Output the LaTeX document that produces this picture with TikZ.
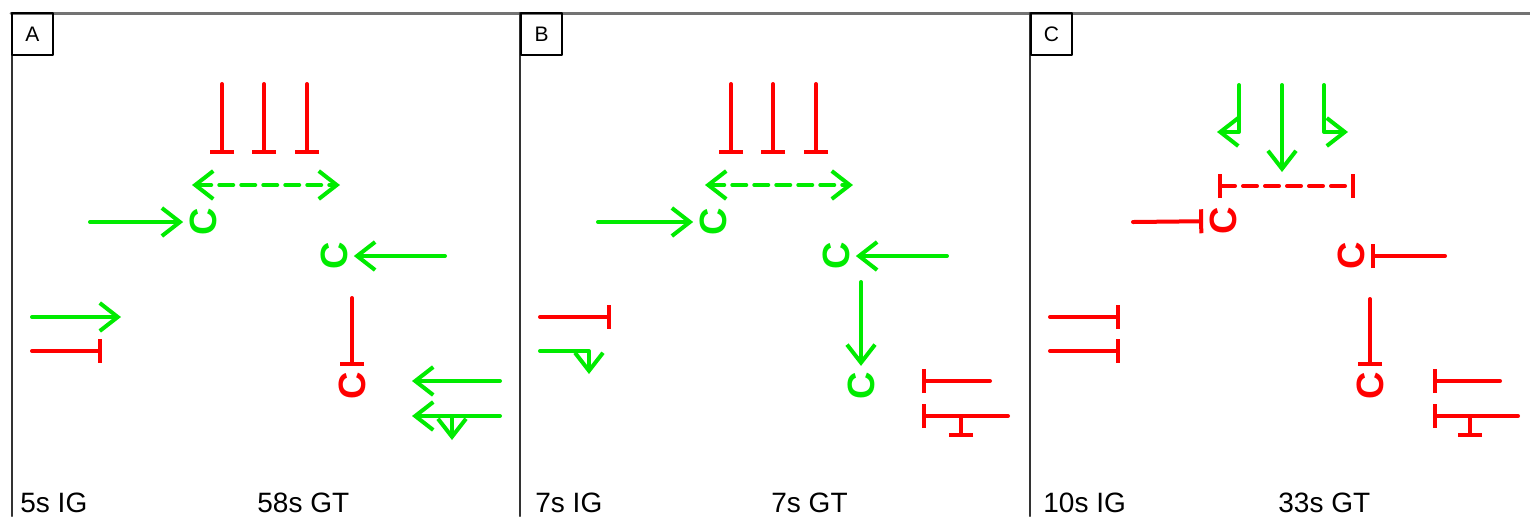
\documentclass[tikz,border=0pt]{standalone}
\usepackage{fontspec}
\setmainfont{Liberation Sans}
\usetikzlibrary{arrows.meta}
\definecolor{actgreen}{RGB}{0,235,0}
\definecolor{inhred}{RGB}{255,0,0}
\tikzset{barb/.tip={Straight Barb[length=9pt,width=14pt]},
  tbar/.tip={Bar[width=12pt]}}

\begin{document}
\begin{tikzpicture}[x=0.5pt,y=-0.5pt,line cap=round,line join=round,
    act/.style={draw=actgreen,line width=2pt,-{barb}},
    inh/.style={draw=inhred,line width=2pt,-{tbar}},
    cnode/.style={inner sep=3pt,rotate=90,font=\fontsize{19pt}{19pt}\selectfont\bfseries},
    tag/.style={draw,line width=0.8pt,minimum width=20.5pt,minimum height=21pt,inner sep=0pt,font=\fontsize{10.5pt}{12pt}\selectfont},
    caption/.style={anchor=base west,inner sep=0pt,font=\fontsize{14pt}{16pt}\selectfont}]
  \useasboundingbox (0,0) rectangle (1530,516);
  % frames
  \draw[black!55,line width=1.5pt] (11,13) -- (1530,13);
  \foreach \x in {12,520,1030}
    \draw[black!80,line width=1.2pt] (\x,13) -- (\x,516);

  % ---- A ----
  \node[tag] (a-tag) at (32.5,34) {A};
  \foreach \x [count=\i] in {222,264,307} {
    \coordinate (a-s\i) at (\x,84);
    \coordinate (a-e\i) at (\x,154);
    \draw[inh] (a-s\i) -- (a-e\i);
  }
  \coordinate (a-dl) at (192,185);
  \coordinate (a-dr) at (340,185);
  \draw[act,{barb}-{barb},dash pattern=on 7pt off 4pt] (a-dl) -- (a-dr);
  \node[cnode,actgreen] (a-c1) at (203,222) {C};
  \node[cnode,actgreen] (a-c2) at (334,256) {C};
  \node[cnode,inhred] (a-c3) at (352,386) {C};
  \coordinate (a-in1) at (90,222);
  \coordinate (a-in2) at (445,256);
  \coordinate (a-in3) at (352,298);
  \draw[act] (a-in1) -- (a-c1);
  \draw[act] (a-in2) -- (a-c2);
  \draw[inh] (a-in3) -- (a-c3);
  \coordinate (a-l1) at (32,317);  \coordinate (a-l1e) at (121,317);
  \coordinate (a-l2) at (32,351);  \coordinate (a-l2e) at (102,351);
  \draw[act] (a-l1) -- (a-l1e);
  \draw[inh] (a-l2) -- (a-l2e);
  \coordinate (a-r1) at (500,381); \coordinate (a-r1e) at (412,381);
  \coordinate (a-r2) at (500,416); \coordinate (a-r2e) at (412,416);
  \coordinate (a-r3) at (452,416); \coordinate (a-r3e) at (452,440);
  \draw[act] (a-r1) -- (a-r1e);
  \draw[act] (a-r2) -- (a-r2e);
  \draw[act] (a-r3) -- (a-r3e);
  \node[caption] (a-ig) at (20,512) {5s IG};
  \node[caption] (a-gt) at (257,512) {58s GT};

  % ---- B ----
  \node[tag] (b-tag) at (541.5,34) {B};
  \foreach \x [count=\i] in {731,773,816} {
    \coordinate (b-s\i) at (\x,84);
    \coordinate (b-e\i) at (\x,154);
    \draw[inh] (b-s\i) -- (b-e\i);
  }
  \coordinate (b-dl) at (705,185);
  \coordinate (b-dr) at (853,185);
  \draw[act,{barb}-{barb},dash pattern=on 7pt off 4pt] (b-dl) -- (b-dr);
  \node[cnode,actgreen] (b-c1) at (713,222) {C};
  \node[cnode,actgreen] (b-c2) at (836,256) {C};
  \node[cnode,actgreen] (b-c3) at (861,386) {C};
  \coordinate (b-in1) at (598,222);
  \coordinate (b-in2) at (947,256);
  \coordinate (b-in3) at (861,282);
  \draw[act] (b-in1) -- (b-c1);
  \draw[act] (b-in2) -- (b-c2);
  \draw[act] (b-in3) -- (b-c3);
  \coordinate (b-l1) at (540,317); \coordinate (b-l1e) at (611,317);
  \coordinate (b-l2) at (540,351); \coordinate (b-l2e) at (589,374);
  \draw[inh] (b-l1) -- (b-l1e);
  \draw[act] (b-l2) -| (b-l2e);
  \coordinate (b-r1) at (990,381);  \coordinate (b-r1e) at (922,381);
  \coordinate (b-r2) at (1008,416); \coordinate (b-r2e) at (922,416);
  \coordinate (b-r3) at (961,416);  \coordinate (b-r3e) at (961,437);
  \draw[inh] (b-r1) -- (b-r1e);
  \draw[inh] (b-r2) -- (b-r2e);
  \draw[inh] (b-r3) -- (b-r3e);
  \node[caption] (b-ig) at (535,512) {7s IG};
  \node[caption] (b-gt) at (771,512) {7s GT};

  % ---- C ----
  \node[tag] (c-tag) at (1051.5,34) {C};
  \coordinate (c-s1) at (1239,85);  \coordinate (c-e1) at (1217,132);
  \coordinate (c-s2) at (1282,85);  \coordinate (c-e2) at (1282,172);
  \coordinate (c-s3) at (1324,85);  \coordinate (c-e3) at (1348,132);
  \draw[act] (c-s1) |- (c-e1);
  \draw[act] (c-s2) -- (c-e2);
  \draw[act] (c-s3) |- (c-e3);
  \coordinate (c-dl) at (1218,186);
  \coordinate (c-dr) at (1355,186);
  \draw[inh,{tbar}-{tbar},dash pattern=on 7pt off 4pt] (c-dl) -- (c-dr);
  \node[cnode,inhred] (c-c1) at (1223,221) {C};
  \node[cnode,inhred] (c-c2) at (1351,256) {C};
  \node[cnode,inhred] (c-c3) at (1370,386) {C};
  \coordinate (c-in1) at (1133,222);
  \coordinate (c-in2) at (1445,256);
  \coordinate (c-in3) at (1370,299);
  \draw[inh] (c-in1) -- (c-c1);
  \draw[inh] (c-in2) -- (c-c2);
  \draw[inh] (c-in3) -- (c-c3);
  \coordinate (c-l1) at (1050,317); \coordinate (c-l1e) at (1120,317);
  \coordinate (c-l2) at (1050,351); \coordinate (c-l2e) at (1120,351);
  \draw[inh] (c-l1) -- (c-l1e);
  \draw[inh] (c-l2) -- (c-l2e);
  \coordinate (c-r1) at (1500,381); \coordinate (c-r1e) at (1433,381);
  \coordinate (c-r2) at (1518,416); \coordinate (c-r2e) at (1433,416);
  \coordinate (c-r3) at (1470,416); \coordinate (c-r3e) at (1470,437);
  \draw[inh] (c-r1) -- (c-r1e);
  \draw[inh] (c-r2) -- (c-r2e);
  \draw[inh] (c-r3) -- (c-r3e);
  \node[caption] (c-ig) at (1043,512) {10s IG};
  \node[caption] (c-gt) at (1278,512) {33s GT};
\end{tikzpicture}
\end{document}
